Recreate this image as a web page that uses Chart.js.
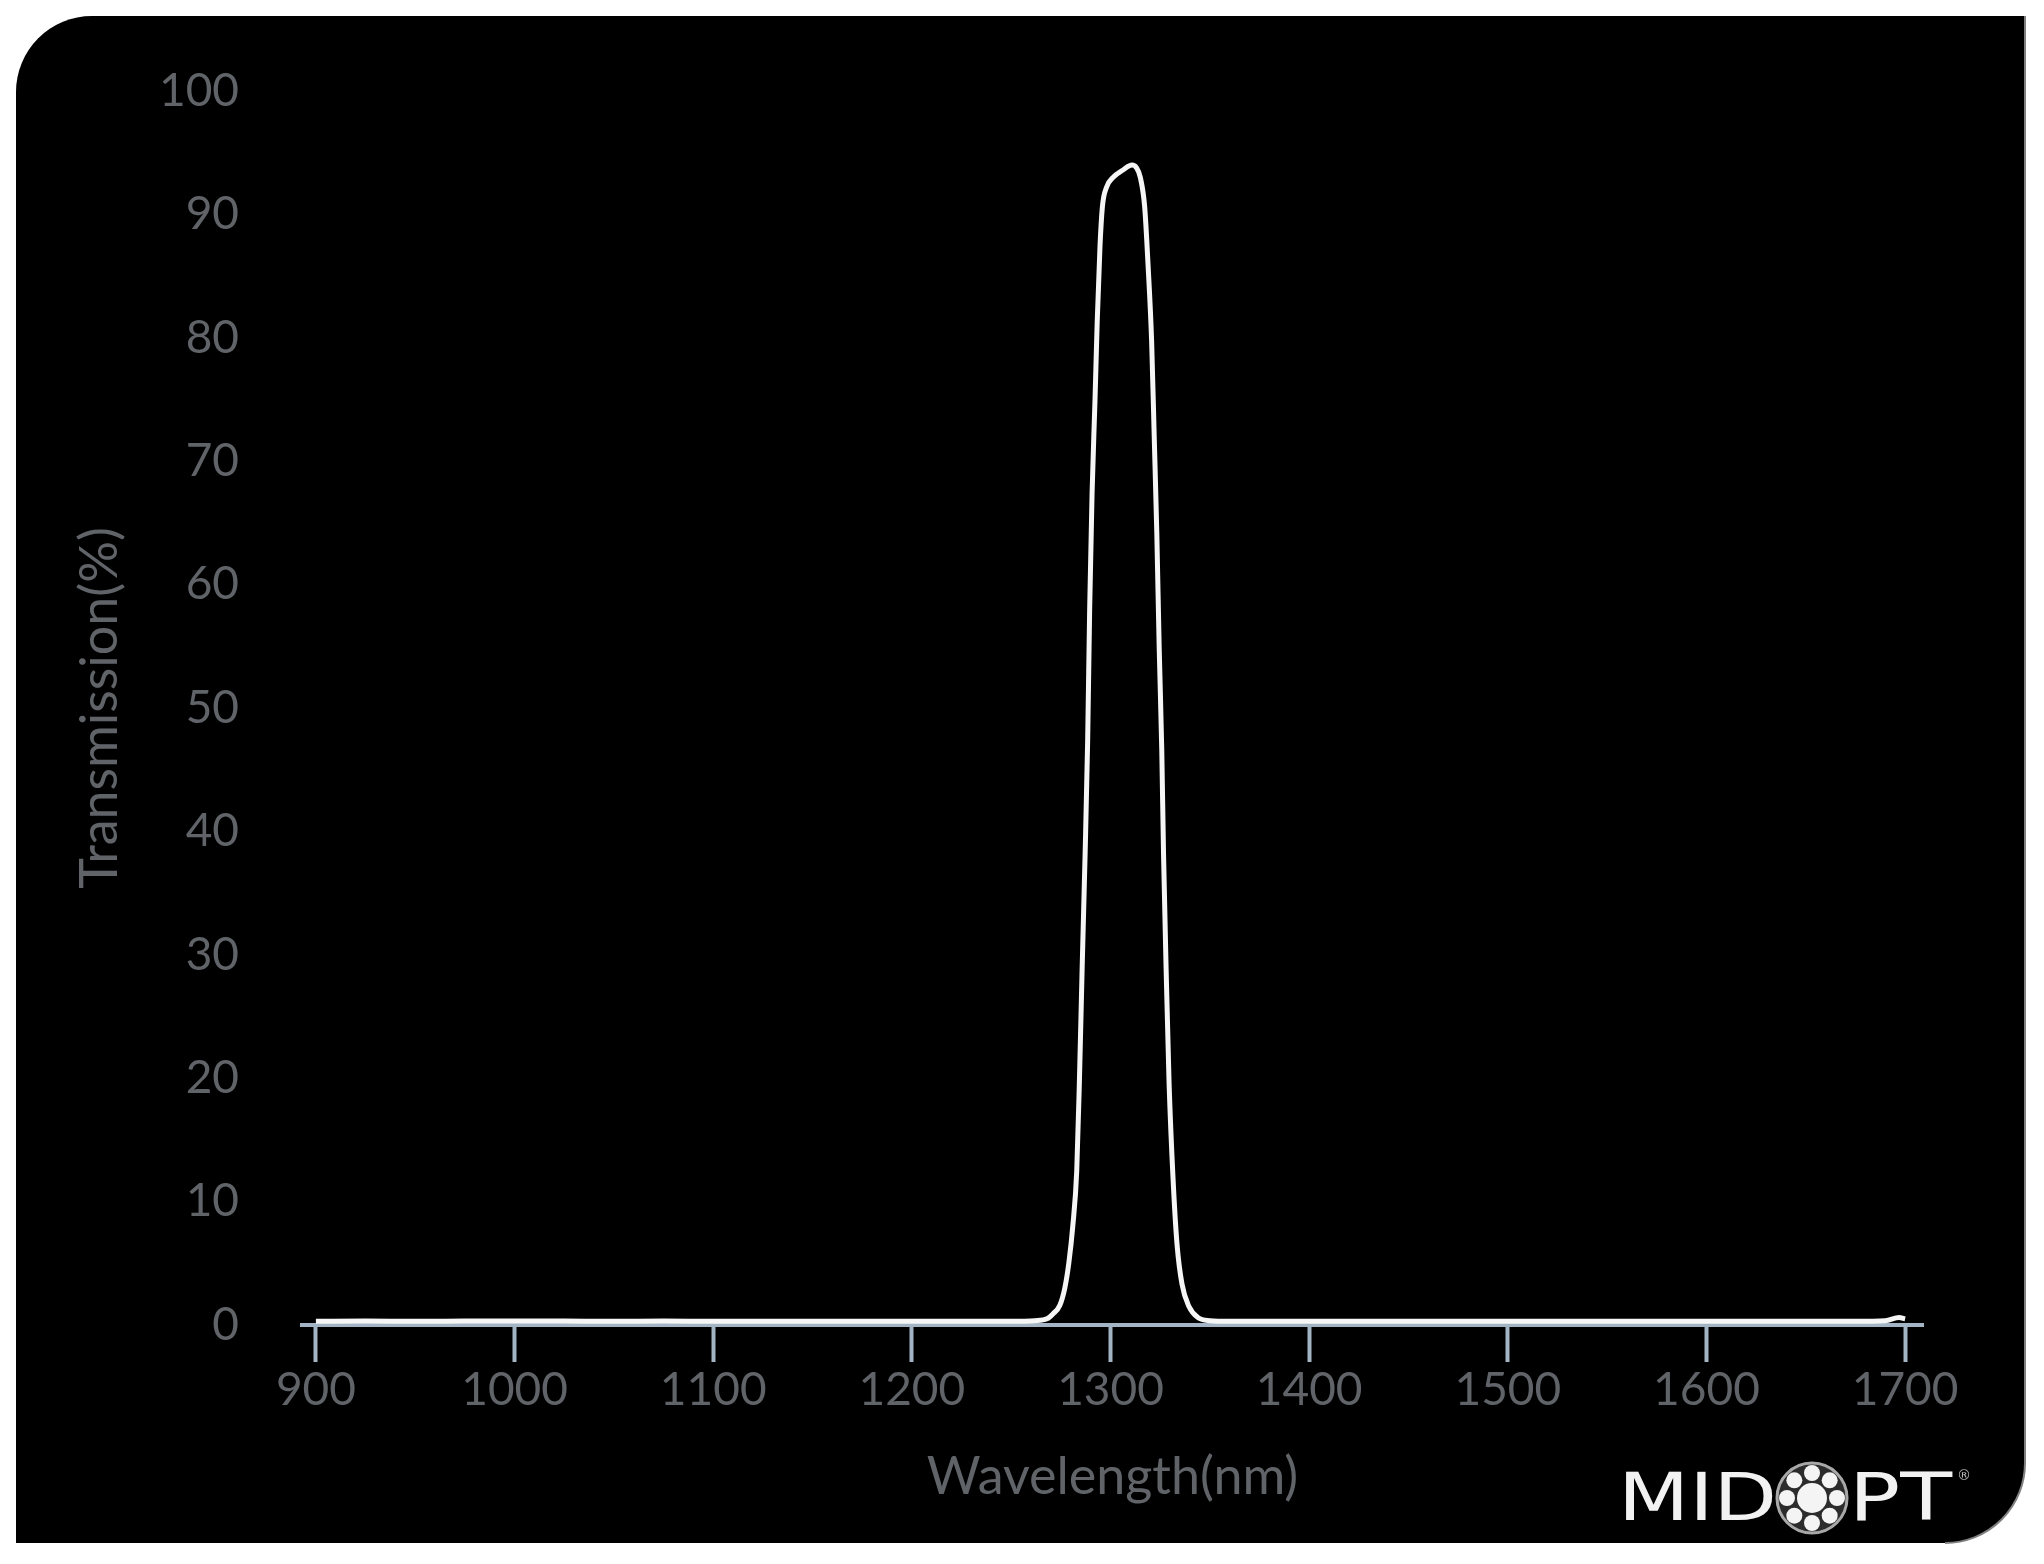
<!DOCTYPE html>
<html>
<head>
<meta charset="utf-8">
<script src="https://cdn.jsdelivr.net/npm/chart.js@4.4.0/dist/chart.umd.min.js"></script>
<style>
  html, body { margin: 0; padding: 0; background: #ffffff; overflow: hidden; }
  canvas { display: block; }
</style>
</head>
<body>
<canvas id="c" width="2044" height="1564"></canvas>
<script>
// ---- Data ----
const wavelengthNm = [
  900, 925, 950, 975, 1000, 1025, 1050, 1075, 1100, 1125, 1150, 1175, 1200, 1225, 1250,
  1262, 1268, 1271, 1274.5, 1277, 1279, 1281, 1283, 1284.3, 1285.7, 1287.2, 1288.5,
  1289.5, 1290.7, 1292.2, 1293.3, 1294.7, 1295.9, 1298, 1301.3, 1306.3, 1310.8, 1313,
  1315, 1317.2, 1318.9, 1320.7, 1322, 1323.3, 1324.5, 1325.8, 1326.7, 1328, 1329.5,
  1331.5, 1333.5, 1336, 1339.5, 1344, 1350, 1360, 1375, 1400, 1425, 1450, 1475, 1500,
  1525, 1550, 1575, 1600, 1625, 1650, 1675, 1690, 1697, 1700
];
const transmissionPct = [
  0.3, 0.32, 0.3, 0.32, 0.33, 0.32, 0.3, 0.32, 0.3, 0.3, 0.3, 0.3, 0.3, 0.3, 0.3,
  0.35, 0.5, 0.9, 1.6, 3.0, 5.0, 8.0, 12.5, 19.5, 28.8, 38.1, 47.4,
  58.0, 67.3, 75.0, 81.3, 87.4, 90.6, 92.2, 93.0, 93.6, 94.0, 93.8,
  93.0, 90.6, 85.9, 79.7, 72.0, 64.2, 54.9, 46.6, 38.1, 28.8, 19.5,
  11.8, 6.5, 3.3, 1.5, 0.6, 0.35, 0.3, 0.3, 0.3, 0.3, 0.3, 0.3, 0.3,
  0.3, 0.3, 0.3, 0.3, 0.3, 0.3, 0.3, 0.35, 0.6, 0.5
];
const xTickValues = [900, 1000, 1100, 1200, 1300, 1400, 1500, 1600, 1700];
const yTickValues = [0, 10, 20, 30, 40, 50, 60, 70, 80, 90, 100];
const xTitle = 'Wavelength(nm)';
const yTitle = 'Transmission(%)';
const brandLeft = 'MID';
const brandRight = 'PT';

const points = wavelengthNm.map((w, i) => ({ x: w, y: transmissionPct[i] }));

// ---- Panel background + logo ----
const panelPlugin = {
  id: 'panel',
  beforeDraw(chart) {
    const ctx = chart.ctx;
    const W = chart.width, H = chart.height;
    ctx.save();
    ctx.fillStyle = '#ffffff';
    ctx.fillRect(0, 0, W, H);
    const L = 16, T = 16, R = 2025, B = 1543, r1 = 76, r2 = 80;
    ctx.beginPath();
    ctx.moveTo(L + r1, T);
    ctx.lineTo(R, T);
    ctx.lineTo(R, B - r2);
    ctx.arcTo(R, B, R - r2, B, r2);
    ctx.lineTo(L, B);
    ctx.lineTo(L, T + r1);
    ctx.arcTo(L, T, L + r1, T, r1);
    ctx.closePath();
    ctx.fillStyle = '#000000';
    ctx.fill();
    // thin grey rim on right edge
    ctx.beginPath();
    ctx.moveTo(R, T);
    ctx.lineTo(R, B - r2);
    ctx.arcTo(R, B, R - r2, B, r2);
    ctx.strokeStyle = '#808080';
    ctx.lineWidth = 2;
    ctx.stroke();
    ctx.restore();
  },
  afterDraw(chart) {
    const ctx = chart.ctx;
    ctx.save();
    ctx.fillStyle = '#f2f2f2';
    ctx.font = '400 66px "DejaVu Sans"';
    ctx.textBaseline = 'alphabetic';
    ctx.textAlign = 'left';
    // MID
    let w = ctx.measureText(brandLeft).width;
    ctx.save();
    ctx.translate(1618, 1520);
    ctx.scale(159 / w, 1);
    ctx.fillText(brandLeft, 0, 0);
    ctx.restore();
    // PT
    w = ctx.measureText(brandRight).width;
    ctx.save();
    ctx.translate(1849, 1520);
    ctx.scale(103 / w, 1);
    ctx.fillText(brandRight, 0, 0);
    ctx.restore();
    // registered mark
    ctx.fillStyle = '#bdbdbd';
    ctx.font = '400 14px "DejaVu Sans"';
    ctx.fillText('®', 1957, 1480);
    // emblem "O"
    const cx = 1812, cy = 1498;
    ctx.beginPath();
    ctx.arc(cx, cy, 35, 0, Math.PI * 2);
    ctx.fillStyle = '#2c2c2c';
    ctx.fill();
    ctx.lineWidth = 3;
    ctx.strokeStyle = '#a8a8a8';
    ctx.stroke();
    ctx.fillStyle = '#f4f4f4';
    ctx.beginPath();
    ctx.arc(cx, cy, 15, 0, Math.PI * 2);
    ctx.fill();
    for (let k = 0; k < 8; k++) {
      const a = k * Math.PI / 4 - Math.PI / 2;
      ctx.beginPath();
      ctx.arc(cx + 25 * Math.cos(a), cy + 25 * Math.sin(a), 8, 0, Math.PI * 2);
      ctx.fill();
    }
    ctx.restore();
  }
};

const tickFont = { family: 'Lato', size: 46, weight: '400' };
const titleFont = { family: 'Lato', size: 52, weight: '400' };
const textGrey = '#606468';
const axisBlue = '#a3b5c4';

new Chart(document.getElementById('c'), {
  type: 'line',
  data: {
    datasets: [{
      data: points,
      borderColor: '#f6f6f6',
      borderWidth: 5,
      pointRadius: 0,
      fill: false,
      cubicInterpolationMode: 'monotone',
      clip: false
    }]
  },
  options: {
    responsive: false,
    animation: false,
    devicePixelRatio: 1,
    layout: { padding: { left: 0, top: 91, right: 121, bottom: 0 } },
    plugins: { legend: { display: false }, tooltip: { enabled: false } },
    scales: {
      x: {
        type: 'linear',
        min: 893,
        max: 1709,
        afterBuildTicks(scale) {
          scale.ticks = xTickValues.map(v => ({ value: v }));
        },
        afterFit(scale) { scale.height = 239; },
        border: { display: true, color: axisBlue, width: 4 },
        grid: {
          display: true,
          drawOnChartArea: false,
          drawTicks: true,
          tickLength: 37,
          tickWidth: 4,
          tickColor: axisBlue
        },
        ticks: {
          color: textGrey,
          font: tickFont,
          padding: 1,
          maxRotation: 0,
          autoSkip: false,
          callback: v => String(v)
        },
        title: {
          display: true,
          text: xTitle,
          color: textGrey,
          font: titleFont,
          padding: { top: 0, bottom: 56 }
        }
      },
      y: {
        type: 'linear',
        min: 0,
        max: 100,
        afterBuildTicks(scale) {
          scale.ticks = yTickValues.map(v => ({ value: v }));
        },
        afterFit(scale) { scale.width = 302; },
        border: { display: false },
        grid: { display: false, drawTicks: false },
        ticks: {
          color: textGrey,
          font: tickFont,
          padding: 63,
          autoSkip: false,
          callback: v => String(v)
        },
        title: {
          display: true,
          text: yTitle,
          color: textGrey,
          font: titleFont,
          padding: { top: 69, bottom: 0 }
        }
      }
    }
  },
  plugins: [panelPlugin]
});
</script>
</body>
</html>
